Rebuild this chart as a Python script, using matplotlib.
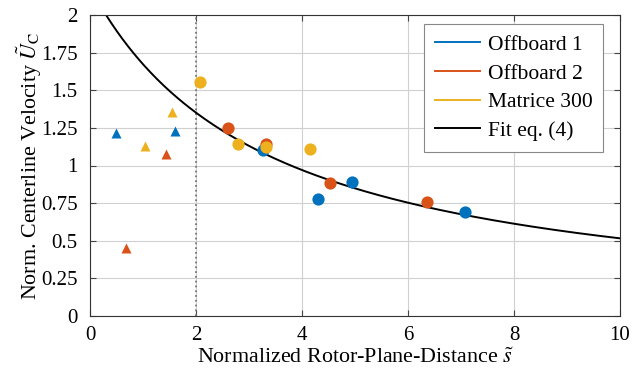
import numpy as np
import matplotlib
matplotlib.use('Agg')
import matplotlib.pyplot as plt

plt.rcParams['font.family'] = 'serif'
plt.rcParams['font.serif'] = ['Liberation Serif', 'DejaVu Serif']
plt.rcParams['mathtext.fontset'] = 'stix'
plt.rcParams['font.size'] = 15

# colours (MATLAB default order)
c_off1 = '#0072BD'
c_off2 = '#D95319'
c_m300 = '#EDB120'

# circles: measurements beyond the limit
off1_s = [3.27, 4.31, 4.95, 7.08]
off1_u = [1.10, 0.775, 0.893, 0.693]
off2_s = [2.61, 3.32, 4.53, 6.35]
off2_u = [1.247, 1.143, 0.886, 0.76]
m300_s = [2.075, 2.80, 3.32, 4.15]
m300_u = [1.557, 1.141, 1.12, 1.108]

# triangles: near field
off1_tri_s = [0.49, 1.61]
off1_tri_u = [1.218, 1.23]
off2_tri_s = [0.68, 1.43]
off2_tri_u = [0.45, 1.074]
m300_tri_s = [1.04, 1.55]
m300_tri_u = [1.13, 1.357]

# fit eq. (4): U = a / (s + s0)^b
fit_a = 8.68
fit_s0 = 3.58
fit_b = 1.082

fig = plt.figure(figsize=(6.42, 3.73), dpi=100)
ax = fig.add_axes([90/642, 1 - 316/373, 530/642, 301/373])

ax.axvline(2, color='#777777', ls=':', lw=1.3, zorder=1)

ms = 8.8
for s, u, c in [(off1_s, off1_u, c_off1), (off2_s, off2_u, c_off2), (m300_s, m300_u, c_m300)]:
    ax.plot(s, u, 'o', color=c, ms=ms, mec='none', zorder=3)
for s, u, c in [(off1_tri_s, off1_tri_u, c_off1), (off2_tri_s, off2_tri_u, c_off2), (m300_tri_s, m300_tri_u, c_m300)]:
    ax.plot(s, u, '^', color=c, ms=6.8, mec='none', zorder=3)

s_fit = np.linspace(0.01, 10, 400)
ax.plot(s_fit, fit_a / (s_fit + fit_s0) ** fit_b, color='black', lw=1.4, zorder=2)

# legend handles (lines only)
h1, = ax.plot([], [], color=c_off1, lw=1.4, label='Offboard 1')
h2, = ax.plot([], [], color=c_off2, lw=1.4, label='Offboard 2')
h3, = ax.plot([], [], color=c_m300, lw=1.4, label='Matrice 300')
h4, = ax.plot([], [], color='black', lw=1.4, label='Fit eq. (4)')
leg = ax.legend(handles=[h1, h2, h3, h4], loc='upper right', bbox_to_anchor=(0.968, 0.970),
                borderaxespad=0, fancybox=False, fontsize=15.5,
                edgecolor='#888888', framealpha=1, handlelength=2.1,
                labelspacing=0.4, handletextpad=0.35, borderpad=0.5)
leg.get_frame().set_linewidth(0.8)

ax.set_xlim(0, 10)
ax.set_ylim(0, 2)
ax.set_xticks(np.arange(0, 11, 2))
ax.set_yticks(np.arange(0, 2.01, 0.25))
ax.set_yticklabels(['0', '0.25', '0.5', '0.75', '1', '1.25', '1.5', '1.75', '2'])
ax.grid(True, color='#d0d0d0', lw=0.8)
ax.set_axisbelow(True)
ax.tick_params(direction='in', top=True, right=True, length=4, color='#444444', labelsize=15)
ax.tick_params(axis='x', pad=7)
ax.tick_params(axis='y', pad=9)
for sp in ax.spines.values():
    sp.set_color('#333333')
    sp.set_linewidth(0.8)

ax.set_xlabel(r'Normalized Rotor-Plane-Distance $\tilde{s}$', labelpad=3, fontsize=15.8)
ax.set_ylabel(r'Norm. Centerline Velocity $\tilde{U}_\mathrm{C}$', labelpad=-2, fontsize=15.8)

fig.savefig('out.png', dpi=100)
